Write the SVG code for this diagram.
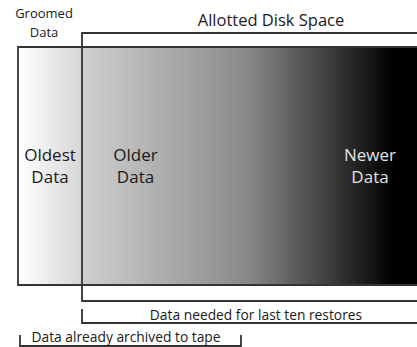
<svg xmlns="http://www.w3.org/2000/svg" width="417" height="347" viewBox="0 0 417 347">
  <defs>
    <linearGradient id="gradGroomed" x1="0" y1="0" x2="1" y2="0">
      <stop offset="0" stop-color="#ffffff"/>
      <stop offset="1" stop-color="#d6d6d6"/>
    </linearGradient>
    <linearGradient id="gradAllotted" x1="0" y1="0" x2="1" y2="0">
      <stop offset="0" stop-color="#d0d0d0"/>
      <stop offset="0.5" stop-color="#888888"/>
      <stop offset="0.93" stop-color="#000000"/>
      <stop offset="1" stop-color="#000000"/>
    </linearGradient>
  </defs>
  <style>
    .frame { fill: none; stroke: #333333; stroke-width: 1.8; }
    .label { font-family: "Open Sans", "Liberation Sans", sans-serif; fill: #1a1a1a; text-anchor: middle; }
    .big { font-size: 17px; }
    .mid { font-size: 16.5px; }
    .small { font-size: 13.8px; }
    .tiny { font-size: 13px; }
    .light { fill: #e2e2e2; }
  </style>

  <!-- storage band: groomed part and allotted part -->
  <g id="band">
    <rect x="18" y="47" width="64" height="238" fill="url(#gradGroomed)"/>
    <rect x="82" y="47" width="335" height="238" fill="url(#gradAllotted)"/>
    <path class="frame" d="M417,47 H18 V285 H417"/>
  </g>

  <!-- allotted disk space outline, open to the right -->
  <g id="allotted">
    <path class="frame" d="M417,33 H82 V301 H417"/>
    <text class="label mid" x="271" y="26">Allotted Disk Space</text>
  </g>

  <g id="groomed">
    <text class="label tiny" x="44" y="18">Groomed</text>
    <text class="label tiny" x="44" y="37">Data</text>
  </g>

  <g id="oldest">
    <text class="label big" x="50" y="161">Oldest</text>
    <text class="label big" x="50" y="183">Data</text>
  </g>

  <g id="older">
    <text class="label big" x="135.5" y="161">Older</text>
    <text class="label big" x="135.5" y="183">Data</text>
  </g>

  <g id="newer">
    <text class="label big light" x="370" y="161">Newer</text>
    <text class="label big light" x="370" y="183">Data</text>
  </g>

  <!-- range brackets -->
  <g id="connectors">
    <path class="frame" d="M82,309 V323 H417"/>
    <path class="frame" d="M20,335 V346 H241 V335"/>
  </g>

  <g id="restores">
    <text class="label small" x="256" y="319.5">Data needed for last ten restores</text>
  </g>

  <g id="archived">
    <text class="label small" x="126" y="342">Data already archived to tape</text>
  </g>
</svg>
